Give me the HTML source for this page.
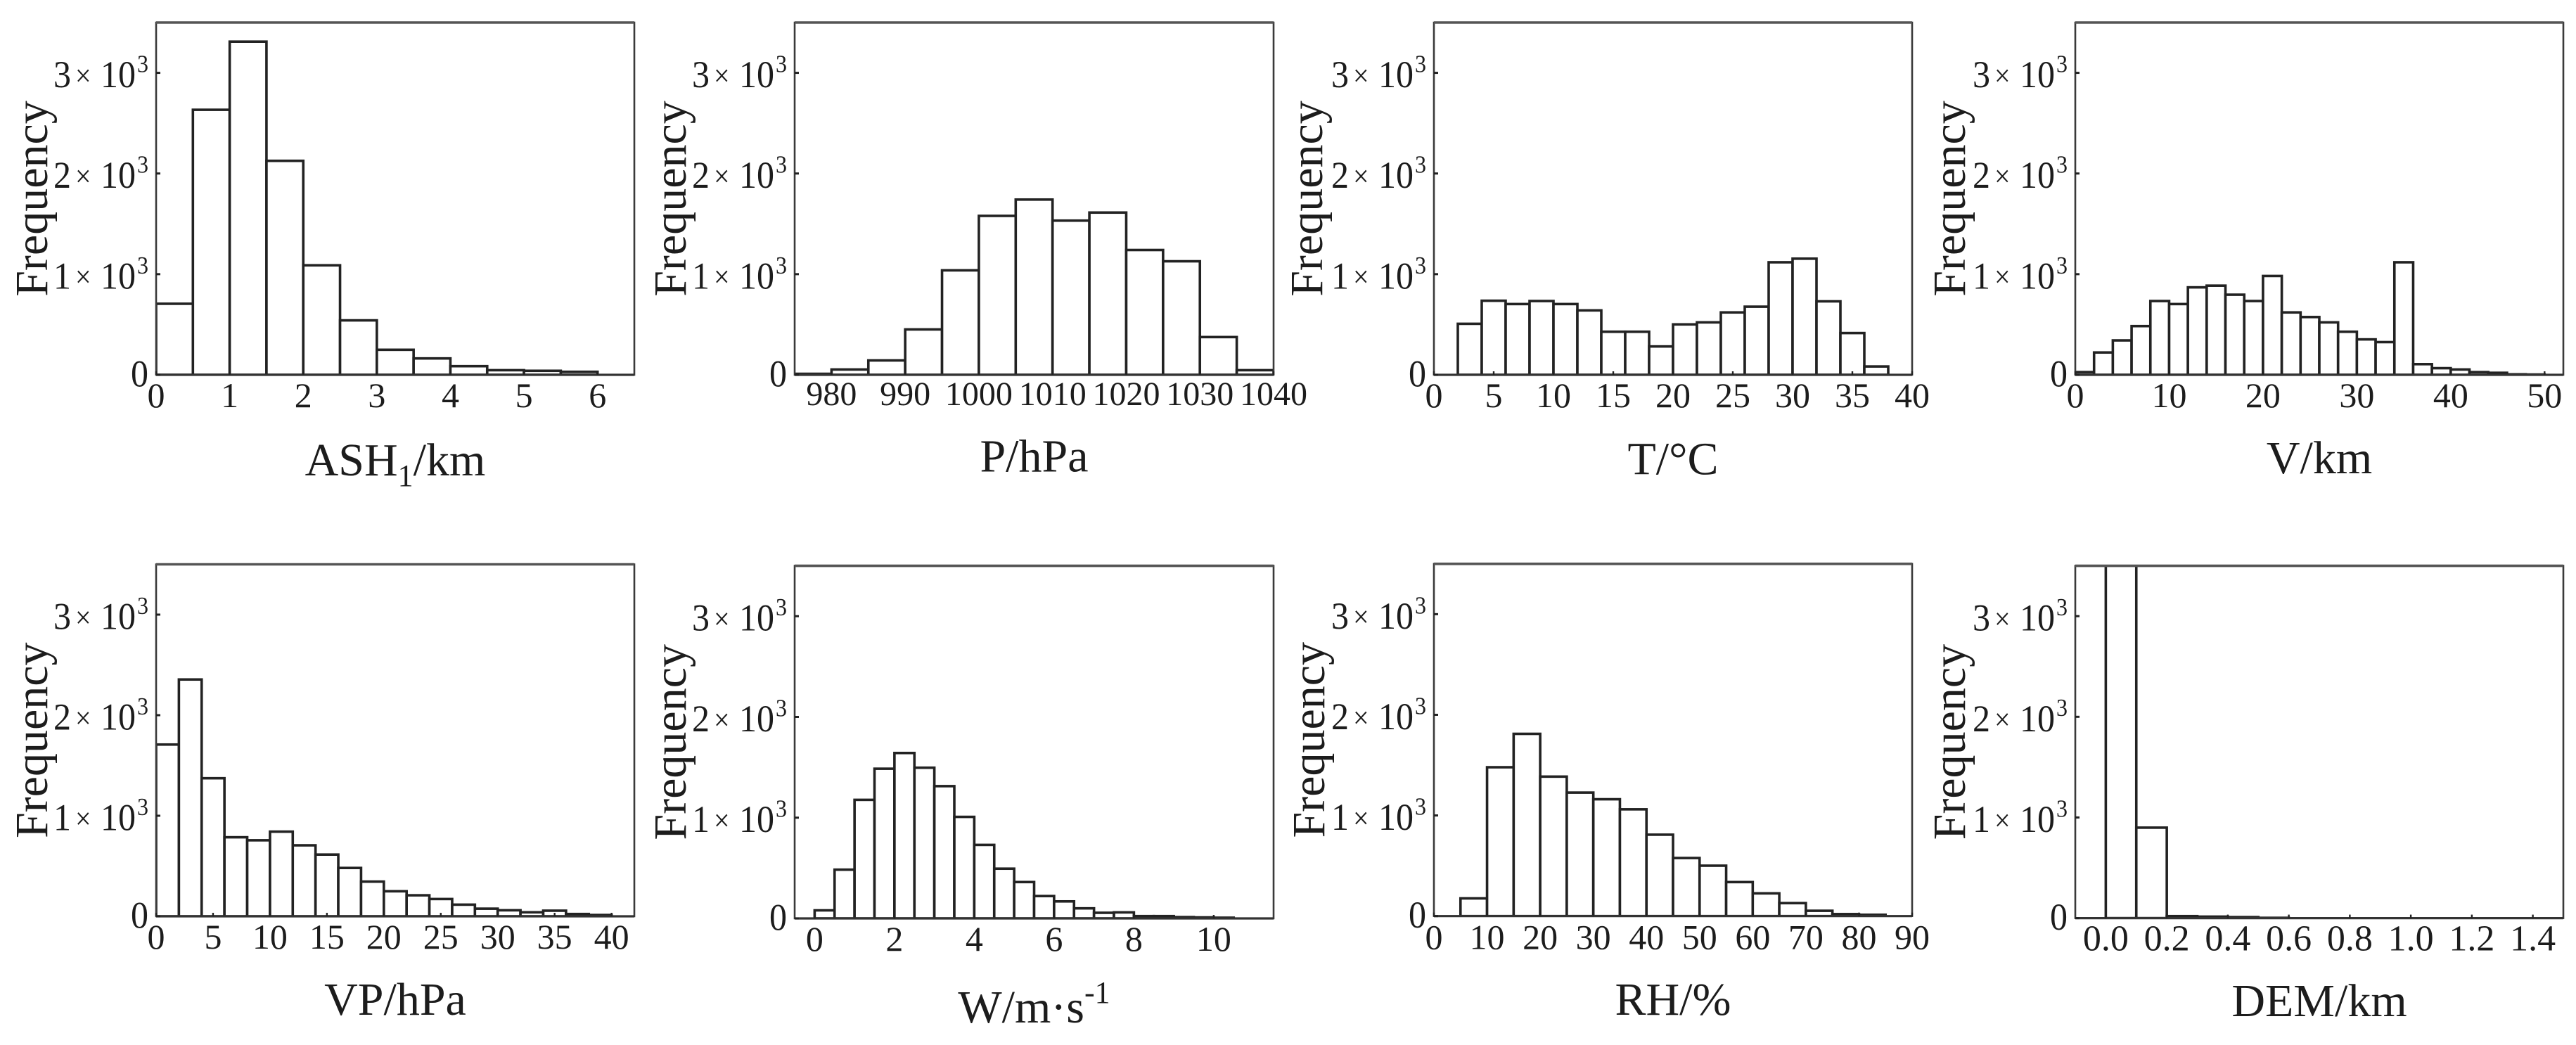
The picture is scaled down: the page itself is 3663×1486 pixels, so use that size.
<!DOCTYPE html>
<html lang="en">
<head>
<meta charset="utf-8">
<title>Histograms of variables</title>
<style>
html,body{margin:0;padding:0;background:#fff;}
svg{display:block;}
text{font-family:"Liberation Serif","Times New Roman",serif;fill:#1c1c1c;}
</style>
</head>
<body>
<svg id="figure" xmlns="http://www.w3.org/2000/svg" width="3663" height="1486" viewBox="0 0 3663 1486"></svg>
<script>
// ---------- shared axis data ----------
const yDomain = [0, 3500];
const yTickValues = [0, 1000, 2000, 3000];

// ---------- ASH1 ----------
const ashValues = [706, 2633, 3310, 2126, 1088, 541, 249, 163, 86, 46, 40, 30];
const ashBin = [0, 0.5];
const ashXDomain = [0, 6.5];
const ashXTicks = [0, 1, 2, 3, 4, 5, 6];

// ---------- P ----------
const pValues = [10, 53, 143, 451, 1038, 1579, 1741, 1532, 1612, 1240, 1128, 375, 46];
const pBin = [975, 5];
const pXDomain = [975, 1040];
const pXTicks = [980, 990, 1000, 1010, 1020, 1030, 1040];

// ---------- T ----------
const tValues = [507, 736, 703, 733, 703, 640, 428, 428, 282, 501, 521, 620, 677, 1118, 1154, 730, 415, 83];
const tBin = [2, 2];
const tXDomain = [0, 40];
const tXTicks = [0, 5, 10, 15, 20, 25, 30, 35, 40];

// ---------- V ----------
const vValues = [27, 222, 342, 484, 733, 703, 869, 886, 796, 733, 982, 620, 574, 521, 428, 352, 325, 1118, 106, 66, 53, 27, 20, 5, 3];
const vBin = [0, 2];
const vXDomain = [0, 52];
const vXTicks = [0, 10, 20, 30, 40, 50];

// ---------- VP ----------
const vpValues = [1708, 2355, 1373, 786, 756, 842, 706, 614, 481, 345, 249, 209, 172, 116, 76, 60, 40, 56, 23, 13];
const vpBin = [0, 2];
const vpXDomain = [0, 42];
const vpXTicks = [0, 5, 10, 15, 20, 25, 30, 35, 40];

// ---------- W ----------
const wValues = [80, 484, 1177, 1486, 1642, 1496, 1313, 1008, 730, 494, 361, 222, 169, 100, 56, 60, 23, 23, 13, 10, 7];
const wBin = [0, 0.5];
const wXDomain = [-0.5, 11.5];
const wXTicks = [0, 2, 4, 6, 8, 10];

// ---------- RH ----------
const rhValues = [176, 1479, 1811, 1386, 1227, 1161, 1061, 809, 577, 501, 338, 226, 129, 53, 20, 13];
const rhBin = [5, 5];
const rhXDomain = [0, 90];
const rhXTicks = [0, 10, 20, 30, 40, 50, 60, 70, 80, 90];

// ---------- DEM ----------
const demValues = [4500, 899, 20, 15, 10, 3];
const demBin = [0, 0.1];
const demXDomain = [-0.1, 1.5];
const demXTicks = [0, 0.2, 0.4, 0.6, 0.8, 1.0, 1.2, 1.4];

const charts = [
  {id:'ash', values:ashValues, bin:ashBin, domain:ashXDomain, ticks:ashXTicks, digits:0},
  {id:'p',   values:pValues,   bin:pBin,   domain:pXDomain,   ticks:pXTicks,   digits:0},
  {id:'t',   values:tValues,   bin:tBin,   domain:tXDomain,   ticks:tXTicks,   digits:0},
  {id:'v',   values:vValues,   bin:vBin,   domain:vXDomain,   ticks:vXTicks,   digits:0},
  {id:'vp',  values:vpValues,  bin:vpBin,  domain:vpXDomain,  ticks:vpXTicks,  digits:0},
  {id:'w',   values:wValues,   bin:wBin,   domain:wXDomain,   ticks:wXTicks,   digits:0},
  {id:'rh',  values:rhValues,  bin:rhBin,  domain:rhXDomain,  ticks:rhXTicks,  digits:0},
  {id:'dem', values:demValues, bin:demBin, domain:demXDomain, ticks:demXTicks, digits:1}
];

const NS = 'http://www.w3.org/2000/svg';
const figure = document.getElementById('figure');

function make(parent, tag, attrs) {
  const el = document.createElementNS(NS, tag);
  for (const k in attrs) el.setAttribute(k, attrs[k]);
  parent.appendChild(el);
  return el;
}
function addSpan(parent, str, attrs) {
  const s = make(parent, 'tspan', attrs);
  s.textContent = str;
  return s;
}

function panelFrame(i) {
  const lefts = [222, 1130, 2039, 2951];
  const rights = [902, 1811, 2719, 3645];
  const tops = [32, 32, 32, 32, 802.5, 804.6, 801.8, 804.6];
  const bottoms = [533, 533, 533, 533, 1303, 1306, 1302.7, 1305.6];
  const titleBase = [676, 670.6, 674.4, 673, 1443, 1454, 1443, 1445];
  const freqBase = [67, 975, 1880, 2794, 67, 975, 1883, 2794];
  const tickBase = [46, 43, 46, 46, 46, 46, 47, 46];
  const c = i % 4;
  return {L:lefts[c], R:rights[c], T:tops[i], B:bottoms[i], titleY:titleBase[i], freqX:freqBase[i], tickDy:tickBase[i]};
}

function titleContent(id, t) {
  if (id === 'ash') { t.appendChild(document.createTextNode('ASH')); addSpan(t, '1', {'font-size':44, dy:15}); addSpan(t, '/km', {dy:-15}); }
  else if (id === 'p') t.textContent = 'P/hPa';
  else if (id === 't') t.textContent = 'T/°C';
  else if (id === 'v') t.textContent = 'V/km';
  else if (id === 'vp') t.textContent = 'VP/hPa';
  else if (id === 'w') { t.appendChild(document.createTextNode('W/m·s')); addSpan(t, '-1', {'font-size':44, dy:-28}); }
  else if (id === 'rh') t.textContent = 'RH/%';
  else t.textContent = 'DEM/km';
}

function drawPanel(chart, i) {
  const f = panelFrame(i);
  const x = v => f.L + (v - chart.domain[0]) / (chart.domain[1] - chart.domain[0]) * (f.R - f.L);
  const y = v => f.B - (v - yDomain[0]) / (yDomain[1] - yDomain[0]) * (f.B - f.T);

  const g = make(figure, 'g', {});
  
  

  const clip = make(g, 'clipPath', {id:'clip-' + chart.id});
  make(clip, 'rect', {x:f.L, y:f.T, width:f.R - f.L, height:f.B - f.T});

  const bars = make(g, 'g', {'clip-path':'url(#clip-' + chart.id + ')'});
  
  
  chart.values.forEach(function (v, k) {
    const x0 = x(chart.bin[0] + k * chart.bin[1]);
    const x1 = x(chart.bin[0] + (k + 1) * chart.bin[1]);
    const r = make(bars, 'rect', {x:x0, y:y(v), width:x1 - x0, height:f.B - y(v), fill:'#fff', stroke:'#222', 'stroke-width':3.6});
    
    
  });

  const frame = make(g, 'path', {d:'M' + f.L + ' ' + f.B + 'V' + f.T + 'H' + f.R + 'V' + f.B + 'Z', fill:'none', stroke:'#3a3a3a', 'stroke-width':2.6});
  
  
  const topLine = make(g, 'line', {x1:f.L, x2:f.R, y1:f.T, y2:f.T, stroke:'#555', 'stroke-width':3.6});
  
  
  const baseLine = make(g, 'line', {x1:f.L, x2:f.R, y1:f.B, y2:f.B, stroke:'#333', 'stroke-width':3.2});
  
  

  // y axis ticks and labels
  yTickValues.forEach(function (v) {
    const py = y(v);
    const tick = make(g, 'line', {x1:f.L, x2:f.L + 6, y1:py, y2:py, stroke:'#222', 'stroke-width':3});
    
    
    const label = make(g, 'text', {'font-size':50});
    
    
    if (v === 0) {
      label.setAttribute('transform', 'translate(' + (f.L - 36) + ' ' + (py + 16.5) + ') scale(1 1.08)');
      label.textContent = '0';
    } else {
      label.setAttribute('transform', 'translate(' + (f.L - 146) + ' ' + (py + 20.5) + ') scale(1 1.08)');
      label.appendChild(document.createTextNode(String(v / 1000)));
      addSpan(label, '×', {x:31, 'font-size':40, dy:-2});
      addSpan(label, '10', {x:67, dy:2});
      addSpan(label, '3', {x:119, 'font-size':32, dy:-20});
    }
  });

  // x axis ticks and labels
  chart.ticks.forEach(function (v) {
    const px = x(v);
    const tick = make(g, 'line', {x1:px, x2:px, y1:f.B, y2:f.B - 5, stroke:'#222', 'stroke-width':2.4});
    
    
    const size = chart.digits ? 52 : (chart.id === 'p' ? 48 : 50);
    const label = make(g, 'text', {'font-size':size, 'text-anchor':'middle', x:px, y:f.B + f.tickDy});
    label.textContent = chart.digits ? v.toFixed(chart.digits) : String(v);
    
    
  });

  // y axis title
  const yTitle = make(g, 'text', {'font-size':66, 'text-anchor':'middle', transform:'translate(' + f.freqX + ' ' + ((f.T + f.B) / 2) + ') rotate(-90)'});
  yTitle.textContent = 'Frequency';
  
  

  // x axis title
  const xTitle = make(g, 'text', {'font-size':66, 'text-anchor':'middle', x:(f.L + f.R) / 2, y:f.titleY});
  titleContent(chart.id, xTitle);
  
  
}

charts.forEach(drawPanel);
</script>
</body>
</html>
